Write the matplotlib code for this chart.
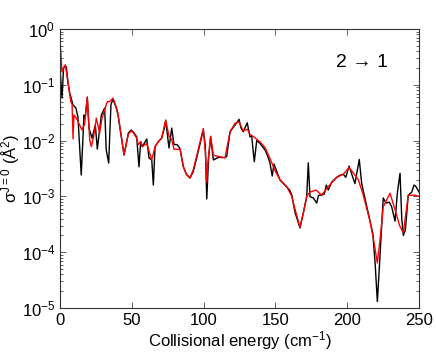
import matplotlib
matplotlib.use("Agg")
import matplotlib.pyplot as plt
from matplotlib.ticker import LogLocator, NullFormatter

plt.rcParams['font.family'] = ['Liberation Sans', 'DejaVu Sans']
plt.rcParams['mathtext.fontset'] = 'custom'
plt.rcParams['mathtext.rm'] = 'Liberation Sans'
plt.rcParams['mathtext.it'] = 'Liberation Sans'

black_E = [0.2, 1.4, 2.5, 3.7, 4.5, 5.6, 6.8, 9.1, 11.1, 12.5, 14.8, 16.7, 17.5, 19.0, 20.2,
           22.3, 24.6, 26.0, 28.8, 31.1, 32.2, 33.9, 35.5, 36.9, 39.2, 40.4, 42.7, 44.6, 47.6,
           49.5, 51.0, 53.4, 55.0, 56.2, 57.3, 60.4, 62.0, 63.9, 65.0, 66.2, 68.5, 70.8, 72.5,
           73.6, 75.9, 77.8, 79.4, 81.5, 83.6, 85.9, 88.0, 90.5, 92.8, 96.0, 99.8, 101.2, 102.2,
           103.5, 104.9, 106.8, 110.2, 114.9, 116.1, 118.4, 121.9, 124.7, 126.0, 127.6, 130.4,
           132.3, 133.5, 135.3, 137.0, 139.3, 142.8, 145.0, 146.2, 147.8, 149.0, 153.2, 157.9,
           160.0, 161.4, 163.6, 167.1, 169.4, 171.8, 172.9, 174.1, 176.4, 178.8, 180.0, 182.2,
           184.0, 185.5, 186.8, 189.2, 192.7, 195.0, 197.3, 199.0, 201.3, 205.4, 208.4, 210.1,
           215.9, 217.8, 219.5, 221.0, 222.5, 225.1, 227.0, 229.3, 231.0, 233.3, 235.0, 236.8,
           238.0, 239.1, 240.5, 242.5, 245.0, 246.5, 247.9, 250.0]
black_sigma = [0.17, 0.058, 0.2, 0.226, 0.2, 0.108, 0.0713, 0.0435, 0.0384, 0.0265, 0.00242,
               0.0288, 0.025, 0.0604, 0.0168, 0.0111, 0.019, 0.00707, 0.0288, 0.0384, 0.00679,
               0.00397, 0.045, 0.055, 0.0384, 0.0288, 0.0116, 0.00552, 0.0137, 0.0155, 0.0144,
               0.0117, 0.0034, 0.0096, 0.0078, 0.0107, 0.00488, 0.0045, 0.0016, 0.0078, 0.0096,
               0.0111, 0.016, 0.0227, 0.0074, 0.0168, 0.0085, 0.0085, 0.0072, 0.0034, 0.0025,
               0.00214, 0.00277, 0.006, 0.0155, 0.008, 0.0009, 0.005, 0.0116, 0.0045, 0.0050,
               0.0050, 0.0052, 0.0144, 0.019, 0.0241, 0.017, 0.0144, 0.0209, 0.0117, 0.012,
               0.00419, 0.010, 0.0089, 0.0068, 0.005, 0.0040, 0.00232, 0.0038, 0.00197, 0.00147,
               0.0013, 0.00106, 0.000525, 0.000272, 0.000498, 0.00099, 0.004, 0.00099, 0.00094,
               0.00076, 0.00105, 0.00106, 0.0011, 0.0016, 0.0013, 0.0018, 0.0022, 0.0024, 0.0025,
               0.0022, 0.0035, 0.0017, 0.0046, 0.0017, 0.00036, 0.00022, 6e-5, 1.3e-5, 6e-5,
               0.00094, 0.00076, 0.00079, 0.00065, 0.00036, 0.0012, 0.0026, 0.0004, 0.0002,
               0.00025, 0.00105, 0.0012, 0.0016, 0.0015, 0.0012]

red_E = [0.3, 1.4, 2.5, 3.7, 5.6, 7.5, 8.4, 9.1, 9.7, 11.5, 13.7, 15.3, 17.2, 19.0, 20.7,
         21.8, 23.5, 25.3, 27.6, 29.2, 31.0, 32.9, 34.5, 36.9, 39.2, 40.4, 42.7, 44.6, 47.6,
         49.5, 51.0, 53.4, 54.5, 56.2, 57.3, 60.4, 62.0, 63.9, 66.2, 68.5, 70.8, 73.6, 75.9,
         77.8, 79.4, 83.6, 85.9, 88.0, 90.5, 92.8, 96.0, 99.8, 101.3, 102.2, 103.0, 104.9,
         106.8, 110.2, 114.9, 118.4, 121.9, 124.7, 127.6, 130.4, 132.3, 135.3, 139.3, 142.8,
         146.2, 150.0, 153.2, 157.9, 161.4, 163.6, 167.1, 169.4, 171.8, 174.1, 178.3, 182.2,
         186.8, 192.7, 197.3, 201.3, 204.0, 207.7, 211.0, 215.9, 218.5, 221.0, 223.0, 225.1,
         229.8, 233.3, 236.5, 239.1, 242.5, 247.2, 250.0]
red_sigma = [0.5, 0.17, 0.2, 0.226, 0.11, 0.05, 0.045, 0.0107, 0.0288, 0.025, 0.019, 0.0155,
             0.02, 0.06, 0.0103, 0.0078, 0.012, 0.0254, 0.0137, 0.025, 0.035, 0.0498, 0.05,
             0.058, 0.04, 0.03, 0.012, 0.0056, 0.013, 0.015, 0.014, 0.011, 0.0085, 0.0096,
             0.0078, 0.0089, 0.0065, 0.0045, 0.0078, 0.0096, 0.0111, 0.0235, 0.012, 0.0105,
             0.0070, 0.0070, 0.0034, 0.0025, 0.00214, 0.003, 0.0065, 0.0165, 0.006, 0.0018,
             0.004, 0.012, 0.0055, 0.0052, 0.0049, 0.0144, 0.0205, 0.0215, 0.0150, 0.0160,
             0.0130, 0.0115, 0.0095, 0.0075, 0.0048, 0.0028, 0.0020, 0.0015, 0.0010, 0.0006,
             0.00028, 0.0005, 0.0010, 0.0012, 0.0013, 0.00106, 0.0015, 0.0022, 0.0025, 0.0033,
             0.0027, 0.002, 0.0011, 0.00036, 0.00016, 6.4e-5, 0.00018, 0.00065, 0.00114,
             0.00058, 0.0003, 0.00022, 0.00105, 0.00105, 0.0010]

x_ticks = [0, 50, 100, 150, 200, 250]

fig = plt.figure(figsize=(4.36, 3.52), dpi=100)
ax = fig.add_axes([0.1376, 0.125, 0.8234, 0.7924])

ax.plot(black_E, black_sigma, color='black', lw=1.0)
ax.plot(red_E, red_sigma, color='red', lw=1.0)

ax.set_yscale('log')
ax.set_xlim(0, 250)
ax.set_ylim(1e-5, 1)
ax.set_xticks(x_ticks)
ax.yaxis.set_major_locator(LogLocator(base=10, numticks=10))
ax.yaxis.set_minor_locator(LogLocator(base=10, subs=range(2, 10), numticks=20))
ax.yaxis.set_minor_formatter(NullFormatter())

ax.tick_params(which='both', direction='in', top=True, right=True, labelsize=12,
               width=0.6, color='#444444')
ax.tick_params(which='major', length=4)
ax.tick_params(which='minor', length=2)
for s in ax.spines.values():
    s.set_linewidth(0.8)
    s.set_color('#333333')

ax.set_xlabel('Collisional energy (cm$^{-1}$)', fontsize=12, labelpad=1)
ax.set_ylabel(r'$\sigma^{J=0}$ (Å$^2$)', fontsize=12, labelpad=0)

ax.text(0.84, 0.88, '2 \u2192 1', transform=ax.transAxes, fontsize=14,
        ha='center', va='center')

fig.savefig('out.png', dpi=100)
